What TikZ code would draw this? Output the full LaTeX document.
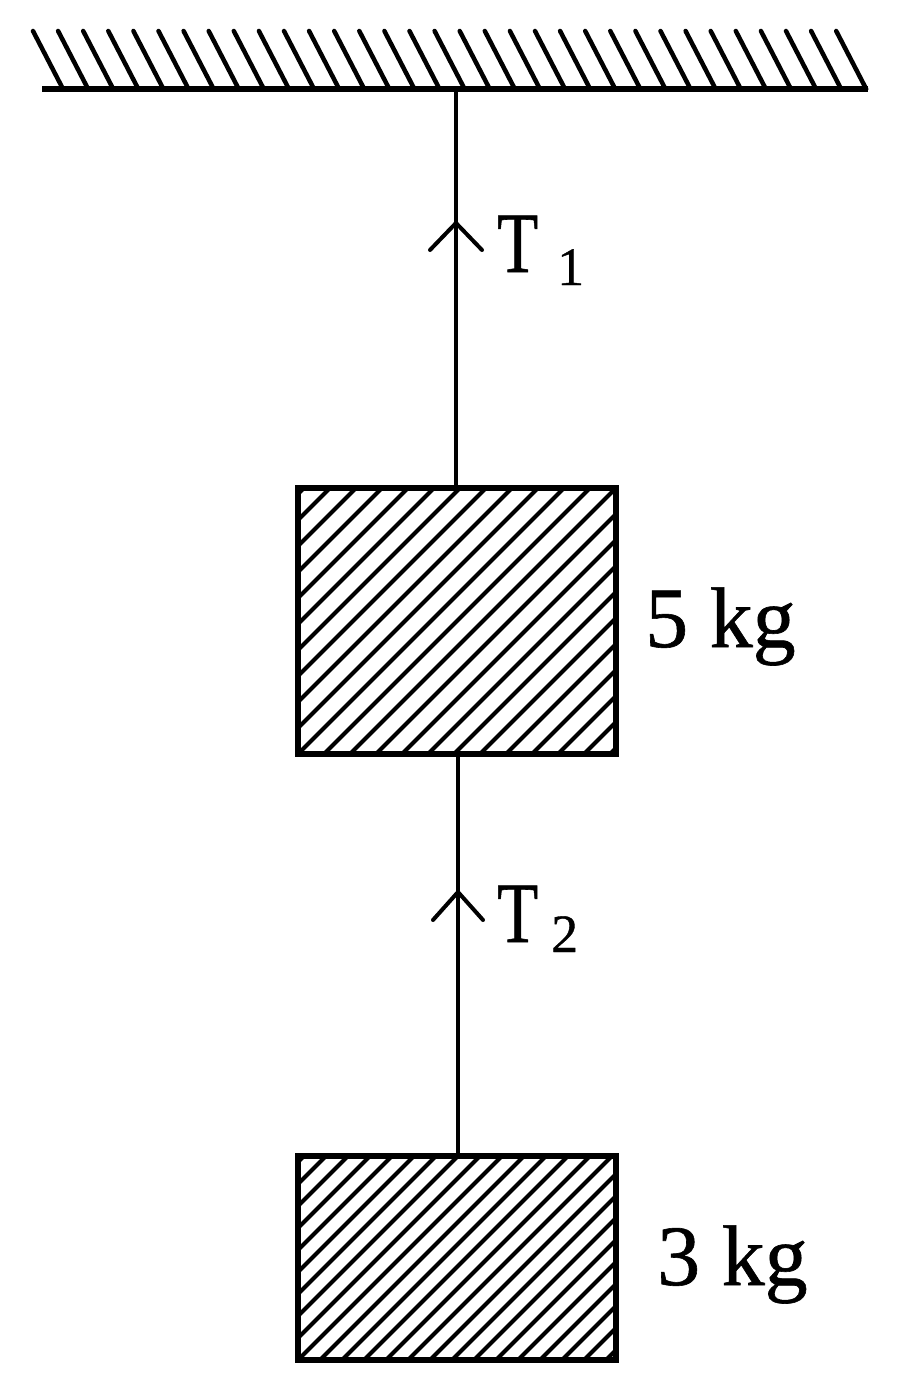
\documentclass[tikz,border=0pt]{standalone}
\usepackage{fontspec}
\setmainfont{Liberation Serif}
\newfontfamily\heavyserif[FakeBold=0.7]{Liberation Serif}
\usetikzlibrary{calc}
\tikzset{
  block/.style={draw, line width=5.5pt, minimum width=318pt, minimum height=#1, inner sep=0pt},
  hatchline/.style={line width=4pt},
  rope/.style={line width=4.5pt},
  chev/.style={line width=4pt, line cap=round, line join=miter},
  masslbl/.style={anchor=base west, inner sep=0pt, font=\heavyserif\fontsize{86}{100}\selectfont},
  tlbl/.style={anchor=base west, inner sep=0pt, font=\heavyserif\fontsize{86}{100}\selectfont},
  sublbl/.style={anchor=base west, inner sep=0pt, font=\heavyserif\fontsize{54}{60}\selectfont},
}
\begin{document}
\begin{tikzpicture}[x=1pt,y=-1pt]
\useasboundingbox (0,0) rectangle (900,1395);
% ceiling
\coordinate (cl) at (42,89);
\coordinate (cr) at (868,89);
\draw[line width=5.5pt] (cl) -- (cr);
\foreach \i in {0,...,32}
  \draw[line width=4.5pt, line cap=round] (33+\i*25.1,31) -- (63+\i*25.1,89);
\coordinate (top) at (456,89);
% blocks
\node[block=266pt] (b1) at (457,621) {};
\node[block=204pt] (b2) at (457,1258) {};
\begin{scope}
  \clip (b1.south west) rectangle (b1.north east);
  \foreach \k in {-12,...,13}
    \draw[hatchline] ($(b1.south west)+(\k*26,0)$) -- ++(300,-300);
\end{scope}
\begin{scope}
  \clip (b2.south west) rectangle (b2.north east);
  \foreach \k in {-11,...,15}
    \draw[hatchline] ($(b2.south west)+(\k*22,0)$) -- ++(260,-260);
\end{scope}
\node[block=266pt] at (b1) {};
\node[block=204pt] at (b2) {};
% ropes
\draw[rope] (top) -- (top |- b1.north);
\draw[rope] ($(b1.south)+(1,0)$) -- ($(b2.north)+(1,0)$);
% arrows
\coordinate (a1) at (456,223);
\draw[chev] ($(a1)+(-26,27)$) -- (a1) -- ($(a1)+(26,27)$);
\coordinate (a2) at (458,892);
\draw[chev] ($(a2)+(-25,28)$) -- (a2) -- ($(a2)+(25,28)$);
% labels
\node[tlbl] (t1) at (497,272) {\scalebox{0.78}[1]{T}};
\node[sublbl] (s1) at (557,285) {1};
\node[tlbl] (t2) at (497,942) {\scalebox{0.78}[1]{T}};
\node[sublbl] (s2) at (551,952) {2};
\node[masslbl] (m1) at (645,647) {5 kg};
\node[masslbl] (m2) at (657,1285) {3 kg};
\end{tikzpicture}
\end{document}
